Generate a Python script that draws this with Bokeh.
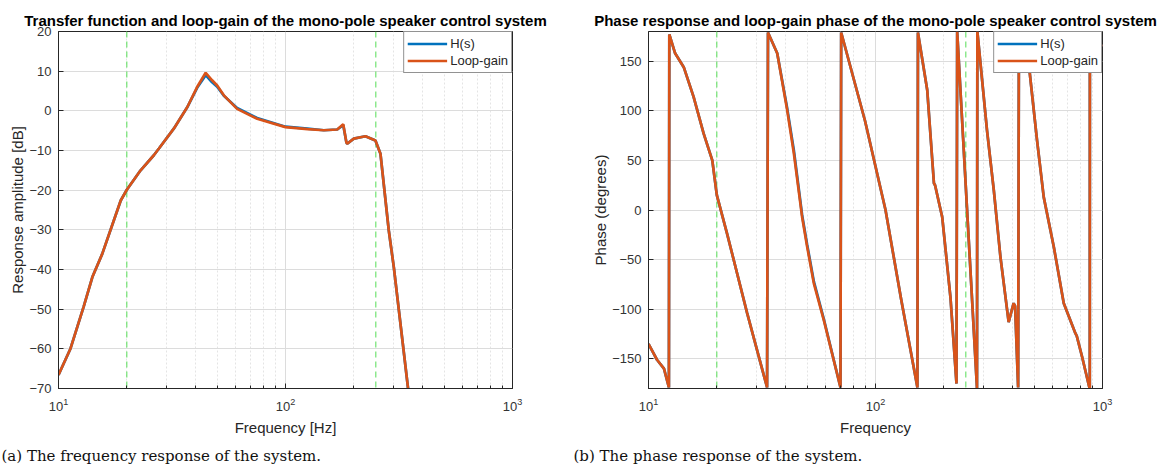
from bokeh.plotting import figure
from bokeh.models import (FixedTicker, Span, Legend, LegendItem, Title, Range1d)
from bokeh.layouts import row
from bokeh.embed import file_html
from bokeh.resources import INLINE

# ---------------- data ----------------
mag_freq = [10, 11.3, 12.9, 14.1, 15.6, 18.8, 20, 23, 26.3, 27.7, 32.2, 36.9, 40.8,
            44.5, 47.5, 50, 53.5, 61.2, 75, 100, 125, 147.6, 169, 179.6, 185.5, 187,
            200, 225, 249, 262, 285, 300, 350]
h_mag = [-66.6, -59.9, -49.4, -41.9, -36, -22.6, -19.9, -15, -11.2, -9.5, -4.5, 0.9, 5.8,
         9.0, 7.2, 6.1, 3.8, 0.7, -1.8, -4.0, -4.5, -4.9, -4.7, -3.6, -8.0, -8.3,
         -7.0, -6.4, -7.5, -10.8, -30.1, -39.4, -72]
loop_mag = [-66.6, -59.9, -49.4, -41.9, -36, -22.6, -19.9, -15, -11.2, -9.5, -4.5, 0.9, 6.0,
            9.6, 7.7, 6.4, 3.9, 0.5, -2.0, -4.1, -4.6, -4.9, -4.7, -3.4, -8.0, -8.3,
            -7.0, -6.4, -7.5, -10.8, -30.1, -39.4, -72]

phase_freq = [10, 10.9, 11.7, 12.3, 12.35, 13.1, 14.3, 15.8, 17.5, 19.1, 20, 22.2, 27.2, 33.3,
              33.6, 36.9, 40.8, 43.7, 47.5, 50, 53.5, 59.2, 70.1,
              70.6, 89.9, 110.7, 129.7, 153,
              153.8, 169, 180.9, 183, 196.7, 213.9, 227.4,
              229, 280,
              281, 290, 310, 332, 355, 386, 406, 412, 425,
              428, 445, 452, 465, 473, 515, 551, 610, 675, 760, 770, 813, 871, 879,
              880, 1000]
h_phase = [-135, -151, -160, -179, 177, 158, 144, 114, 77, 50, 15, -24, -104, -179,
           179, 158, 103, 60, -5, -35, -72, -110, -179,
           179, 90, 0, -90, -179,
           179, 121, 27, 25, -7, -88, -175,
           180, -180,
           180, 148, 80, 20, -47, -113, -94, -97, -179,
           142, 140, 170, 165, 148, 70, 13, -37, -94, -124.5, -127, -148, -177, -180,
           178, 165]
loop_phase = [-135, -151, -160, -179, 177, 158, 144, 114, 77, 50, 15, -24, -104, -179,
              179, 158, 101, 57, -7, -37, -74, -111, -179,
              179, 90, 0, -90, -179,
              179, 121, 27, 25, -7, -88, -175,
              180, -180,
              180, 148, 80, 20, -47, -113, -94, -97, -179,
              142, 140, 170, 165, 148, 70, 13, -37, -94, -124.5, -127, -148, -177, -180,
              178, 165]

band_edges = [20, 250]
x_major = [10, 100, 1000]
x_minor = [20, 30, 40, 50, 60, 70, 80, 90, 200, 300, 400, 500, 600, 700, 800, 900]
mag_ticks = [-70, -60, -50, -40, -30, -20, -10, 0, 10, 20]
phase_ticks = [-150, -100, -50, 0, 50, 100, 150]

BLUE = "#0072BD"
ORANGE = "#D95319"
GREEN = "#55dd55"
INK = "#262626"
SANS = "Liberation Sans"
SERIF = "DejaVu Serif"


def make_fig(width, left, right, y_range, y_ticks, title, xlabel, ylabel,
             xs, ys_h, ys_l, caption, caption_offset):
    p = figure(width=width, height=470, x_axis_type="log",
               x_range=Range1d(10, 1000), y_range=Range1d(*y_range),
               output_backend="svg", toolbar_location=None,
               min_border_left=left, min_border_right=right,
               min_border_top=31, min_border_bottom=82)
    p.background_fill_color = "white"
    p.border_fill_color = "white"
    p.outline_line_color = INK
    p.outline_line_width = 1

    p.title.text = title
    p.title.align = "center"
    p.title.text_font = SANS
    p.title.text_font_size = "15px"
    p.title.text_font_style = "bold"
    p.title.text_color = "#000000"
    p.title.standoff = 5

    p.xaxis.ticker = FixedTicker(ticks=x_major, minor_ticks=x_minor)
    p.yaxis.ticker = FixedTicker(ticks=y_ticks)
    for ax in (p.xaxis[0], p.yaxis[0]):
        ax.axis_line_color = INK
        ax.major_tick_line_color = INK
        ax.minor_tick_line_color = INK
        ax.major_tick_in = 5
        ax.major_tick_out = 0
        ax.minor_tick_in = 3
        ax.minor_tick_out = 0
        ax.major_label_text_font = SANS
        ax.major_label_text_font_size = "13px"
        ax.major_label_text_color = "#333333"
        ax.axis_label_text_font = SANS
        ax.axis_label_text_font_size = "15px"
        ax.axis_label_text_font_style = "normal"
        ax.axis_label_text_color = INK
    p.yaxis.minor_tick_line_color = None
    p.xaxis.axis_label = xlabel
    p.yaxis.axis_label = ylabel
    p.xaxis.major_label_standoff = 9
    p.xaxis.axis_label_standoff = 5
    p.yaxis.major_label_standoff = 7
    p.yaxis.axis_label_standoff = 0

    p.xgrid.grid_line_color = "#dcdcdc"
    p.xgrid.minor_grid_line_color = "#e4e4e4"
    p.xgrid.minor_grid_line_dash = "2 2"
    p.ygrid.grid_line_color = "#dcdcdc"

    for edge in band_edges:
        s = Span(location=edge, dimension="height", line_color=GREEN,
                 line_dash="6 4", line_width=1, level="underlay")
        p.add_layout(s)

    r_h = p.line(xs, ys_h, line_color=BLUE, line_width=2.7)
    r_l = p.line(xs, ys_l, line_color=ORANGE, line_width=2.7)

    legend = Legend(items=[LegendItem(label="H(s)", renderers=[r_h]),
                           LegendItem(label="Loop-gain", renderers=[r_l])],
                    location="top_right")
    legend.margin = 0
    legend.padding = 3
    legend.spacing = 0
    legend.glyph_width = 40
    legend.glyph_height = 17
    legend.label_height = 17
    legend.label_standoff = 3
    legend.label_text_font = SANS
    legend.label_text_font_size = "13px"
    legend.label_text_color = INK
    legend.border_line_color = INK
    legend.border_line_width = 1
    legend.background_fill_alpha = 1
    p.add_layout(legend)

    cap = Title(text=caption, align="left", text_font=SERIF,
                text_font_size="15px", text_font_style="normal",
                text_color="#111111", offset=caption_offset, standoff=12)
    p.add_layout(cap, "below")
    return p


p1 = make_fig(570, 58, 58, (-70, 20), mag_ticks,
              "Transfer function and loop-gain of the mono-pole speaker control system",
              "Frequency [Hz]", "Response amplitude [dB]",
              mag_freq, h_mag, loop_mag,
              "(a) The frequency response of the system.", -57)
p2 = make_fig(589, 78, 57, (-180, 180), phase_ticks,
              "Phase response and loop-gain phase of the mono-pole speaker control system",
              "Frequency", "Phase (degrees)",
              phase_freq, h_phase, loop_phase,
              "(b) The phase response of the system.", -75)

layout = row(p1, p2)
open("out.html", "w").write(file_html(layout, INLINE))
